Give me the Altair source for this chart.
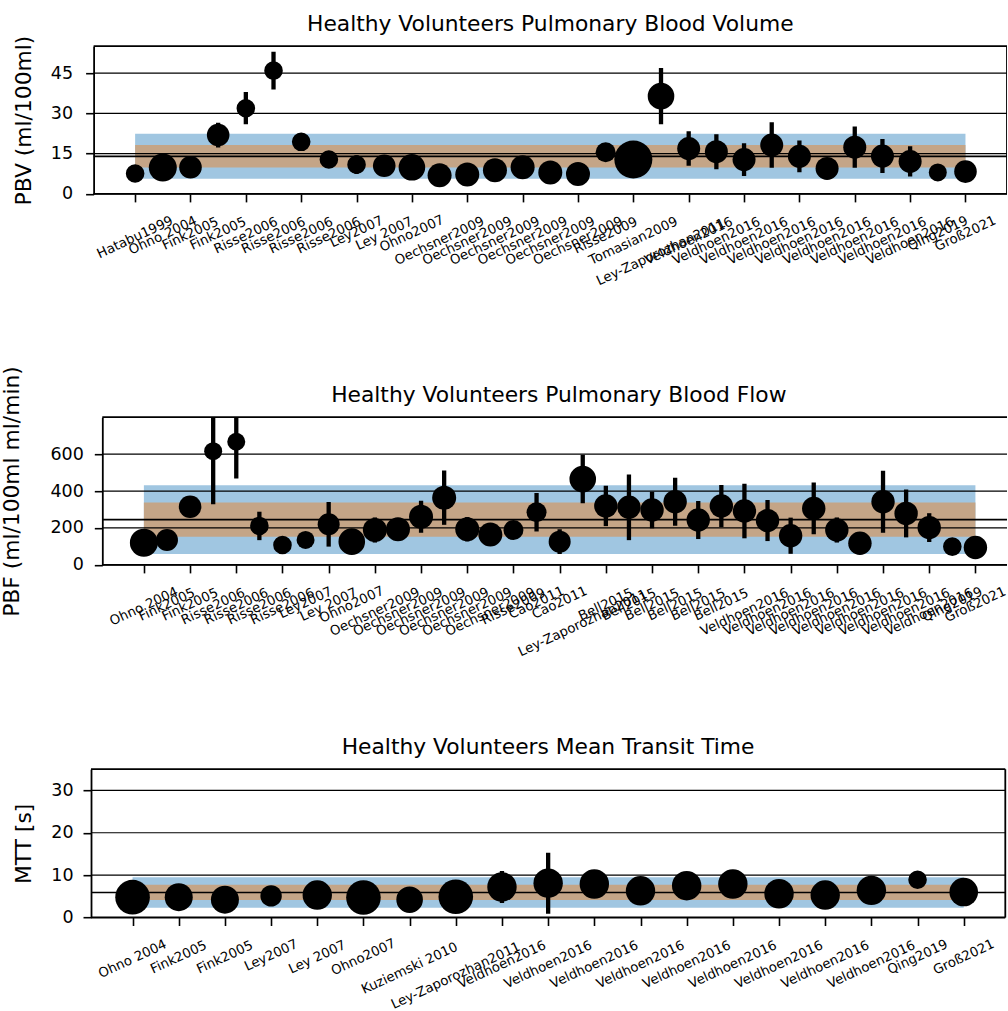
import altair as alt
import pandas as pd

# ---------------- Panel 1: Pulmonary Blood Volume ----------------
pbv_labels = ["Hatabu1999", "Ohno 2004", "Fink2005", "Fink2005", "Risse2006", "Risse2006",
              "Risse2006", "Risse2006", "Ley2007", "Ley 2007", "Ohno2007", "Oechsner2009",
              "Oechsner2009", "Oechsner2009", "Oechsner2009", "Oechsner2009", "Oechsner2009",
              "Risse2009", "Tomasian2009", "Ley-Zaporozhan2011", "Veldhoen2016", "Veldhoen2016",
              "Veldhoen2016", "Veldhoen2016", "Veldhoen2016", "Veldhoen2016", "Veldhoen2016",
              "Veldhoen2016", "Veldhoen2016", "Qing2019", "Groß2021"]
pbv_values = [7.6, 9.8, 9.9, 21.9, 31.9, 45.9, 19.4, 12.8, 10.9, 10.5, 9.9, 6.9, 7.2, 8.8, 9.9,
              8.0, 7.4, 15.5, 12.8, 36.4, 16.9, 15.7, 12.8, 18.2, 14.0, 9.5, 17.4, 14.1, 12.1, 8.0, 8.3]
pbv_errors = [0, 0, 0, 4.6, 6.0, 7.0, 0, 0, 3.5, 0, 0, 0, 0, 0, 0, 0, 0, 0, 0, 10.5,
              6.4, 6.5, 6.1, 8.5, 5.9, 0, 7.7, 6.3, 5.6, 0, 0]
pbv_weight = [9.3, 14, 11.3, 11.3, 9.3, 9.3, 9.3, 9.3, 9.3, 11.3, 13.3, 12, 12, 12, 12, 12, 12,
              10, 19, 13.3, 11.5, 11.5, 11.5, 11.5, 11.5, 11.5, 11.5, 11.5, 11.5, 9, 11.3]
pbv_mean, pbv_sd = 14.0, 4.2
pbv_ticks = [0, 15, 30, 45]

# ---------------- Panel 2: Pulmonary Blood Flow ----------------
pbf_labels = ["Ohno 2004", "Fink2005", "Fink2005", "Risse2006", "Risse2006", "Risse2006",
              "Risse2006", "Ley2007", "Ley 2007", "Ohno2007", "Oechsner2009", "Oechsner2009",
              "Oechsner2009", "Oechsner2009", "Oechsner2009", "Oechsner2009", "Risse2009",
              "Cao2011", "Cao2011", "Ley-Zaporozhan2011", "Bell2015", "Bell2015", "Bell2015",
              "Bell2015", "Bell2015", "Bell2015", "Veldhoen2016", "Veldhoen2016", "Veldhoen2016",
              "Veldhoen2016", "Veldhoen2016", "Veldhoen2016", "Veldhoen2016", "Veldhoen2016",
              "Veldhoen2016", "Qing2019", "Groß2021"]
pbf_values = [120, 135, 315, 616, 667, 211, 108, 135, 220, 126, 189, 193, 261, 364, 193, 164,
              189, 285, 126, 465, 319, 312, 297, 342, 243, 319, 292, 240, 158, 306, 189, 117,
              342, 279, 202, 99, 94]
pbf_errors = [0, 0, 0, 288, 199, 77, 0, 0, 121, 0, 68, 0, 87, 147, 66, 0, 0, 104, 67, 131,
              109, 178, 99, 130, 103, 114, 148, 111, 98, 140, 68, 0, 168, 130, 78, 0, 0]
pbf_weight = [14, 11, 11.3, 9, 9, 9.3, 9.3, 9, 11, 13.3, 12, 12, 12, 12, 12, 12, 10, 10, 11,
              13.3, 11.7, 11.7, 11.7, 11.7, 11.7, 11.7, 11.7, 11.7, 11.7, 11.7, 11.7, 11.7,
              11.7, 11.7, 11.7, 9.3, 11.7]
pbf_mean, pbf_sd = 245.0, 93.0
pbf_ticks = [0, 200, 400, 600]

# ---------------- Panel 3: Mean Transit Time ----------------
mtt_labels = ["Ohno 2004", "Fink2005", "Fink2005", "Ley2007", "Ley 2007", "Ohno2007",
              "Kuziemski 2010", "Ley-Zaporozhan2011", "Veldhoen2016", "Veldhoen2016",
              "Veldhoen2016", "Veldhoen2016", "Veldhoen2016", "Veldhoen2016", "Veldhoen2016",
              "Veldhoen2016", "Veldhoen2016", "Qing2019", "Groß2021"]
mtt_values = [4.8, 4.8, 4.2, 5.1, 5.3, 4.7, 4.2, 4.9, 7.2, 8.1, 7.9, 6.3, 7.5, 7.9, 5.6, 5.3,
              6.4, 8.9, 6.0]
mtt_errors = [0, 0, 0, 0, 0, 0, 0, 0, 3.8, 7.2, 0, 0, 0, 0, 0, 0, 0, 0, 0]
mtt_weight = [17.3, 14, 14, 10.7, 14.7, 17.3, 13.3, 17.3, 14.7, 14.7, 14.7, 14.7, 14.7, 14.7,
              14.7, 14.7, 14.7, 9.3, 14.3]
mtt_mean, mtt_sd = 5.9, 1.8
mtt_ticks = [0, 10, 20, 30]

FONT = "DejaVu Sans"
BLUE = "#a0c6e1"
BROWN = "#c4a587"
ORIGIN = 90.7        # common left origin of all panels (page px)


def spacer(df, x, y):
    return alt.Chart(df.head(1)).mark_rule(color="white", strokeOpacity=0).encode(
        x=alt.value(x), x2=alt.value(x + 1), y=alt.value(y))


def panel(labels, values, errors, weight, mean, sd, yticks, ydom, xvis, ytitle, title,
          vis_left, vis_right, height, title_x, label_pad, right_frame, top_space,
          bottom_space, title_center):
    n = len(labels)
    df = pd.DataFrame({"i": list(range(n)), "label": labels, "v": values,
                       "e": errors, "w": weight})
    df["lo"] = df["v"] - df["e"]
    df["hi"] = df["v"] + df["e"]
    bands = pd.DataFrame({"band": ["2sd", "1sd"],
                          "lo": [mean - 2 * sd, mean - sd],
                          "hi": [mean + 2 * sd, mean + sd]})
    grid = pd.DataFrame({"t": yticks})

    d = vis_left - ORIGIN                 # inner offset of the visible frame
    width = vis_right - ORIGIN
    ppu = (width - d) / (xvis[1] - xvis[0])
    xdom = [xvis[0] - d / ppu, xvis[1]]

    xs = alt.Scale(domain=xdom, nice=False, zero=False)
    ys = alt.Scale(domain=ydom, nice=False, zero=False)

    xaxis = alt.Axis(values=list(range(n)), labels=False, ticks=True, tickSize=8,
                     tickWidth=1.6, tickColor="black", domain=False, grid=False, title=None)
    yaxis = alt.Axis(values=yticks, tickSize=8, tickWidth=1.6, tickColor="black",
                     domain=True, domainColor="black", domainWidth=1.8, grid=False,
                     offset=-d,
                     labelFont=FONT, labelFontSize=17.5, labelColor="black",
                     labelPadding=label_pad, labelOverlap=False, labelFlush=False,
                     title=ytitle, titleFont=FONT, titleFontSize=21.8,
                     titleFontWeight="normal", titleColor="black",
                     titleX=title_x, titleY=height / 2, titleAngle=270,
                     titleAlign="center", titleBaseline="bottom", zindex=1)

    band_layer = alt.Chart(bands).mark_rect().encode(
        x=alt.XDatum(0, scale=xs), x2=alt.X2Datum(n - 1),
        y=alt.Y("lo:Q", scale=ys), y2="hi:Q",
        color=alt.Color("band:N", scale=alt.Scale(domain=["2sd", "1sd"], range=[BLUE, BROWN]),
                        legend=None))
    grid_layer = alt.Chart(grid).mark_rule(color="black", strokeWidth=1.2).encode(
        x=alt.XDatum(xvis[0], scale=xs), x2=alt.X2Datum(xvis[1]),
        y=alt.Y("t:Q", scale=ys))
    mean_layer = alt.Chart(df.head(1)).mark_rule(color="black", strokeWidth=1.7).encode(
        x=alt.XDatum(xvis[0], scale=xs), x2=alt.X2Datum(xvis[1]),
        y=alt.YDatum(mean, scale=ys))
    top_layer = alt.Chart(df.head(1)).mark_rule(color="black", strokeWidth=1.8).encode(
        x=alt.XDatum(xvis[0], scale=xs), x2=alt.X2Datum(xvis[1]),
        y=alt.YDatum(ydom[1], scale=ys))
    bottom_layer = alt.Chart(df.head(1)).mark_rule(color="black", strokeWidth=1.8).encode(
        x=alt.XDatum(xvis[0], scale=xs), x2=alt.X2Datum(xvis[1]),
        y=alt.YDatum(ydom[0], scale=ys))
    err_layer = alt.Chart(df).transform_filter("datum.e > 0").mark_rule(
        color="black", strokeWidth=4.3, clip=True).encode(
        x=alt.X("i:Q", scale=xs), y=alt.Y("lo:Q", scale=ys), y2="hi:Q")
    dots = alt.Chart(df).mark_circle(color="black", opacity=1).encode(
        x=alt.X("i:Q", scale=xs, axis=xaxis),
        y=alt.Y("v:Q", scale=ys, axis=yaxis),
        size=alt.Size("w:Q", scale=alt.Scale(type="pow", exponent=2, domain=[0, 20],
                                             range=[0, 1600]), legend=None))
    xlabels = alt.Chart(df).transform_calculate(
        ly=f"{height} + 25 + 1.85*length(datum.label)"
    ).mark_text(angle=335, align="center", baseline="middle", font=FONT, fontSize=13.3,
                color="black").encode(
        x=alt.X("i:Q", scale=xs),
        y=alt.Y("ly:Q", scale=None),
        text="label:N")
    title_layer = alt.Chart(df.head(1)).mark_text(
        text=title, font=FONT, fontSize=21.8, color="black", align="center",
        baseline="alphabetic").encode(
        x=alt.value(title_center - ORIGIN), y=alt.value(-15.5))

    layers = [band_layer, grid_layer, mean_layer, top_layer, bottom_layer, err_layer, dots,
              xlabels, title_layer]
    if right_frame:
        layers.append(alt.Chart(df.head(1)).mark_rule(color="black", strokeWidth=1.8).encode(
            x=alt.XDatum(xvis[1], scale=xs)))
    # invisible layout spacers that fix each panel's extent
    layers.append(spacer(df, -(ORIGIN + 8), height / 2))
    layers.append(spacer(df, 0, -top_space))
    layers.append(spacer(df, 0, height + bottom_space))

    return alt.layer(*layers).properties(width=width, height=height)


p1 = panel(pbv_labels, pbv_values, pbv_errors, pbv_weight, pbv_mean, pbv_sd, pbv_ticks,
           [0, 55], [-1.5, 31.5], "PBV (ml/100ml)",
           "Healthy Volunteers Pulmonary Blood Volume",
           93.3, 1006.7, 147.7, -58.3, 13, True, 40, 417.3 - 62 - 46.7 - 147.7, 550)
p2 = panel(pbf_labels, pbf_values, pbf_errors, pbf_weight, pbf_mean, pbf_sd, pbf_ticks,
           [0, 800], [-1.8, 37.38], "PBF (ml/100ml ml/min)",
           "Healthy Volunteers Pulmonary Blood Flow",
           102, 1007, 147.7, -78.5, 11, False, 62, 769.3 - 40 - 417.3 - 147.7, 558.5)
p3 = panel(mtt_labels, mtt_values, mtt_errors, mtt_weight, mtt_mean, mtt_sd, mtt_ticks,
           [0, 35], [-0.9, 18.9], "MTT [s]",
           "Healthy Volunteers Mean Transit Time",
           90.7, 1005, 148.3, -55.7, 10, True, 40, 1011 - 769.3 - 148.3, 547.8)

chart = alt.vconcat(p1, p2, p3, spacing=0).properties(
    padding={"left": -8, "top": 6.2, "right": -2, "bottom": 0},
    background="white",
).configure_view(stroke=None)

chart.save("out.html", embed_options={"renderer": "svg", "actions": False})
